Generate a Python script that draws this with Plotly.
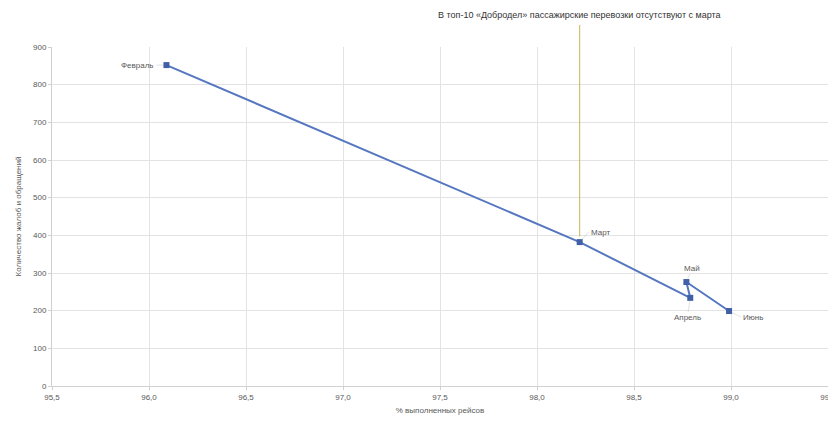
import plotly.graph_objects as go

months = ["Февраль", "Март", "Апрель", "Май", "Июнь"]
pct_done = [96.09, 98.22, 98.79, 98.77, 98.99]
complaints = [852, 382, 234, 276, 199]
label_pos = ["middle left", "top right", "bottom left", "top center", "middle right"]

x_ticks = [95.5, 96.0, 96.5, 97.0, 97.5, 98.0, 98.5, 99.0, 99.5]
x_tick_text = ["95,5", "96,0", "96,5", "97,0", "97,5", "98,0", "98,5", "99,0", "99,5"]
y_ticks = [0, 100, 200, 300, 400, 500, 600, 700, 800, 900]

title_text = "В топ-10 «Добродел» пассажирские перевозки отсутствуют с марта"
callout_month = "Март"

FONT = "Liberation Sans"
GREY = "#595959"

fig = go.Figure()
fig.add_trace(go.Scatter(
    x=pct_done, y=complaints, mode="lines+markers",
    line=dict(color="#5577c0", width=2),
    marker=dict(symbol="square", size=6, color="#3f5fa8"),
    hoverinfo="skip", showlegend=False, cliponaxis=False,
))

# point labels
offsets = {
    "middle left": (-10, 0, "right", "middle"),
    "top right": (9, -10, "left", "middle"),
    "bottom left": (-3, 20, "center", "middle"),
    "top center": (6, -14, "center", "middle"),
    "middle right": (12, 6, "left", "middle"),
}
for m, xv, yv, pos in zip(months, pct_done, complaints, label_pos):
    ax, ay, xa, ya = offsets[pos]
    fig.add_annotation(x=xv, y=yv, text=m, showarrow=True, arrowhead=0,
                       arrowwidth=0.6, arrowcolor="rgba(120,120,120,0.35)",
                       ax=ax, ay=ay, xanchor=xa, yanchor=ya,
                       font=dict(family=FONT, size=8, color=GREY))

# callout line from title down to March point
ci = months.index(callout_month)
fig.add_shape(type="line", xref="x", yref="y",
              x0=pct_done[ci], x1=pct_done[ci], y0=complaints[ci] + 15, y1=900,
              line=dict(color="#c9b45a", width=1))
fig.add_shape(type="line", xref="x", yref="paper",
              x0=pct_done[ci], x1=pct_done[ci], y0=1.0, y1=1.065,
              line=dict(color="#c9b45a", width=1))
fig.add_annotation(x=pct_done[ci], xref="x", y=1.0, yref="paper", yshift=32,
                   text=title_text, showarrow=False, xanchor="center", yanchor="middle",
                   font=dict(family=FONT, size=9, color="#333333"))

fig.update_layout(
    width=828, height=426,
    margin=dict(l=44, r=8, t=39, b=48),
    paper_bgcolor="white", plot_bgcolor="white",
    font=dict(family=FONT, size=8, color=GREY),
    xaxis=dict(range=[95.5, 99.5], tickvals=x_ticks, ticktext=x_tick_text,
               automargin=False, ticklabeloverflow="allow",
               showgrid=True, gridcolor="#e3e3e3", gridwidth=1,
               zeroline=False, showline=True, linecolor="#d0d0d0",
               ticks="outside", ticklen=3, tickcolor="#d0d0d0",
               tickfont=dict(family=FONT, size=8, color=GREY),
               title=dict(text="% выполненных рейсов", standoff=6,
                          font=dict(family=FONT, size=8, color=GREY))),
    yaxis=dict(range=[0, 900], tickvals=y_ticks, automargin=False,
               showgrid=True, gridcolor="#e3e3e3", gridwidth=1,
               zeroline=False, showline=True, linecolor="#d0d0d0",
               ticks="outside", ticklen=3, tickcolor="#d0d0d0",
               tickfont=dict(family=FONT, size=8, color=GREY),
               title=dict(text="Количество жалоб и обращений", standoff=10,
                          font=dict(family=FONT, size=8, color=GREY))),
)

fig.write_html("out.html")
